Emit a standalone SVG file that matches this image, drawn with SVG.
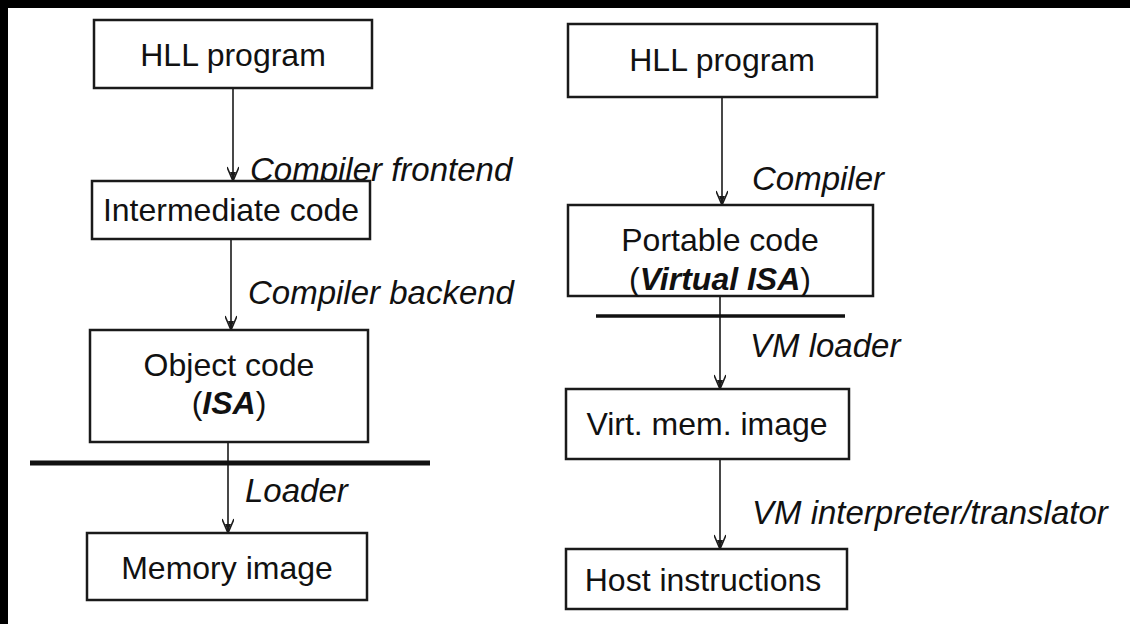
<svg xmlns="http://www.w3.org/2000/svg" width="1130" height="624" viewBox="0 0 1130 624">
  <style>
    .box { fill: #ffffff; stroke: #1a1a1a; stroke-width: 2.5; }
    .node { font-family: "Liberation Sans", Arial, sans-serif; font-size: 32px; fill: #111111; text-anchor: middle; }
    .lbl { font-family: "Liberation Sans", Arial, sans-serif; font-size: 33px; font-style: italic; fill: #111111; }
    .em { font-weight: bold; font-style: italic; }
    .edge { stroke: #1a1a1a; stroke-width: 1.6; fill: none; marker-end: url(#head); }
    .sep { stroke: #111111; fill: none; }
  </style>
  <defs>
    <!-- arrowhead drawn pointing along +x; orient="auto" turns it down the line -->
    <marker id="head" viewBox="0 0 16 12" refX="16" refY="6" markerWidth="16" markerHeight="12" markerUnits="userSpaceOnUse" orient="auto">
      <path d="M2,0 L16,6 L2,12" fill="none" stroke="#1a1a1a" stroke-width="1.6"/>
      <path d="M7,3 L7,9 L15,6 Z" fill="#1a1a1a"/>
    </marker>
  </defs>

  <!-- page background and dark scan edges -->
  <rect x="0" y="0" width="1130" height="624" fill="#ffffff"/>
  <rect x="0" y="0" width="1130" height="8" fill="#000000"/>
  <rect x="0" y="0" width="8" height="624" fill="#000000"/>

  <!-- connectors -->
  <g id="connectors">
    <line class="edge" x1="233" y1="88" x2="233" y2="181"/>
    <line class="edge" x1="231" y1="239" x2="231" y2="330"/>
    <line class="edge" x1="228" y1="442" x2="228" y2="533"/>
    <line class="edge" x1="722" y1="97" x2="722" y2="205"/>
    <line class="edge" x1="720" y1="296" x2="720" y2="389"/>
    <line class="edge" x1="720" y1="459" x2="720" y2="549"/>
    <!-- ISA boundary lines -->
    <line class="sep" x1="30" y1="463" x2="430" y2="463" stroke-width="5"/>
    <line class="sep" x1="596" y1="316" x2="845" y2="316" stroke-width="3.5"/>
  </g>

  <!-- edge labels -->
  <g id="edge-labels">
    <text class="lbl" x="250" y="181">Compiler frontend</text>
    <text class="lbl" x="248" y="304">Compiler backend</text>
    <text class="lbl" x="245" y="502">Loader</text>
    <text class="lbl" x="752" y="190">Compiler</text>
    <text class="lbl" x="750" y="357">VM loader</text>
    <text class="lbl" x="752" y="524">VM interpreter/translator</text>
  </g>

  <!-- left column: native toolchain -->
  <g id="hll-left">
    <rect class="box" x="94" y="20" width="278" height="68"/>
    <text class="node" x="233" y="66">HLL program</text>
  </g>
  <g id="intermediate">
    <rect class="box" x="92" y="181" width="278" height="58"/>
    <text class="node" x="231" y="221">Intermediate code</text>
  </g>
  <g id="object">
    <rect class="box" x="90" y="330" width="278" height="112"/>
    <text class="node" x="229" y="376">Object code</text>
    <text class="node" x="229" y="414">(<tspan class="em">ISA</tspan>)</text>
  </g>
  <g id="memory">
    <rect class="box" x="87" y="533" width="280" height="67"/>
    <text class="node" x="227" y="579">Memory image</text>
  </g>

  <!-- right column: virtual machine toolchain -->
  <g id="hll-right">
    <rect class="box" x="568" y="24" width="309" height="73"/>
    <text class="node" x="722" y="71">HLL program</text>
  </g>
  <g id="portable">
    <rect class="box" x="568" y="205" width="305" height="91"/>
    <text class="node" x="720" y="251">Portable code</text>
    <text class="node" x="720" y="290">(<tspan class="em">Virtual ISA</tspan>)</text>
  </g>
  <g id="virt-mem">
    <rect class="box" x="566" y="389" width="283" height="70"/>
    <text class="node" x="707" y="435">Virt. mem. image</text>
  </g>
  <g id="host">
    <rect class="box" x="566" y="549" width="281" height="60"/>
    <text class="node" x="703" y="591">Host instructions</text>
  </g>
</svg>
